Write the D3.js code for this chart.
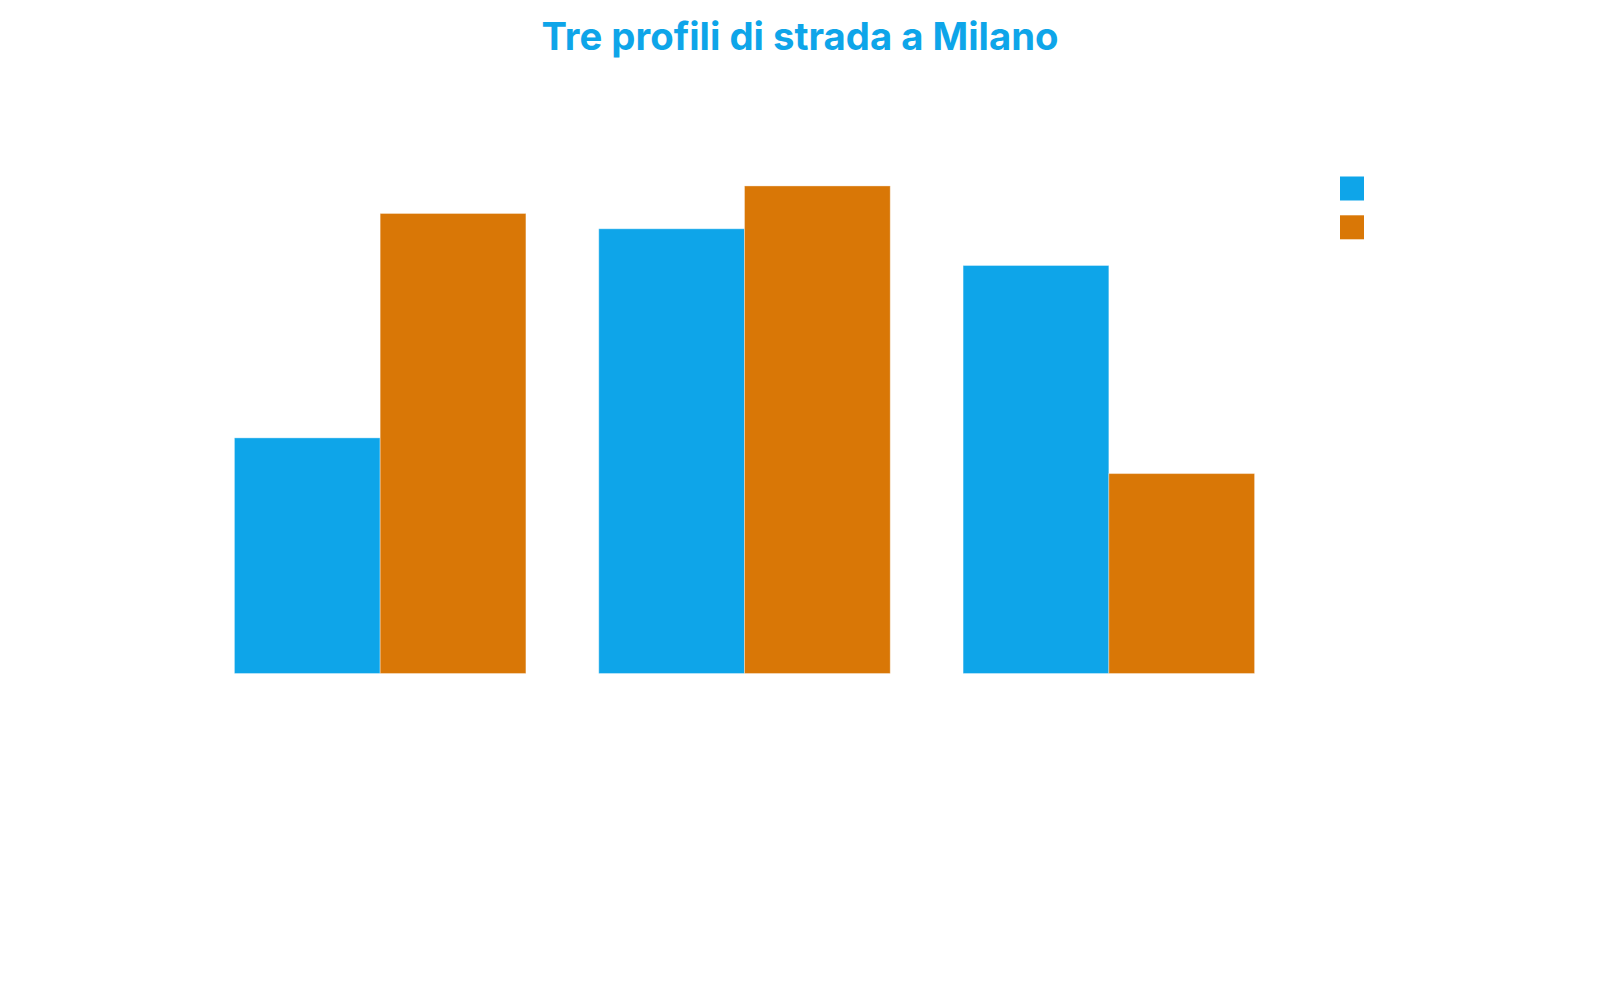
<html>
<head>
    <style>
        body { margin: 0; background: #fff; }
    </style>
    <script src="https://d3js.org/d3.v7.min.js"></script>
</head>
<body>
    <svg width=1600 height=1000></svg>
</body>
<script>

    // three street profiles, two series each
    const categories = ["Profilo A", "Profilo B", "Profilo C"];
    const seriesNames = ["Serie 1", "Serie 2"];
    const serie1 = [46.2, 87.2, 80];
    const serie2 = [90.2, 95.6, 39.2];
    const colors = ["#0ea5e9", "#d97706"];

    const width = 1600;
    const height = 1000;

    const data = categories.map((c, i) => ({ cat: c, values: [serie1[i], serie2[i]] }));

    const x0 = d3.scaleBand()
        .domain(categories)
        .range([198, 1291])
        .paddingInner(0.2)
        .paddingOuter(0.1);

    const x1 = d3.scaleBand()
        .domain(seriesNames)
        .range([0, x0.bandwidth()]);

    const y = d3.scaleLinear()
        .domain([0, 100])
        .range([673.5, 163.5]);

    const z = d3.scaleOrdinal()
        .domain(seriesNames)
        .range(colors);

    const svg = d3.select("svg")
        .style("font-family", "Inter, sans-serif");

    svg.append("text")
        .attr("x", 800)
        .attr("y", 50)
        .attr("text-anchor", "middle")
        .attr("fill", "#0ea5e9")
        .style("font-size", "38.3px")
        .style("font-weight", 700)
        .text("Tre profili di strada a Milano");

    svg.append("g")
        .selectAll("g")
        .data(data)
        .join("g")
            .attr("transform", d => `translate(${x0(d.cat)},0)`)
        .selectAll("rect")
        .data(d => d.values.map((v, i) => ({ key: seriesNames[i], value: v })))
        .join("rect")
            .attr("x", d => x1(d.key))
            .attr("y", d => y(d.value))
            .attr("width", x1.bandwidth())
            .attr("height", d => y(0) - y(d.value))
            .attr("fill", d => z(d.key))
            .attr("stroke", "#fff")
            .attr("stroke-opacity", 0.35)
            .attr("stroke-width", 1);

    // legend swatches (no labels in the picture)
    svg.append("g")
        .selectAll("rect")
        .data(seriesNames)
        .join("rect")
            .attr("x", 1340)
            .attr("y", (d, i) => 176.5 + i * 38.8)
            .attr("width", 24)
            .attr("height", 24)
            .attr("fill", z);

</script>
</html>
